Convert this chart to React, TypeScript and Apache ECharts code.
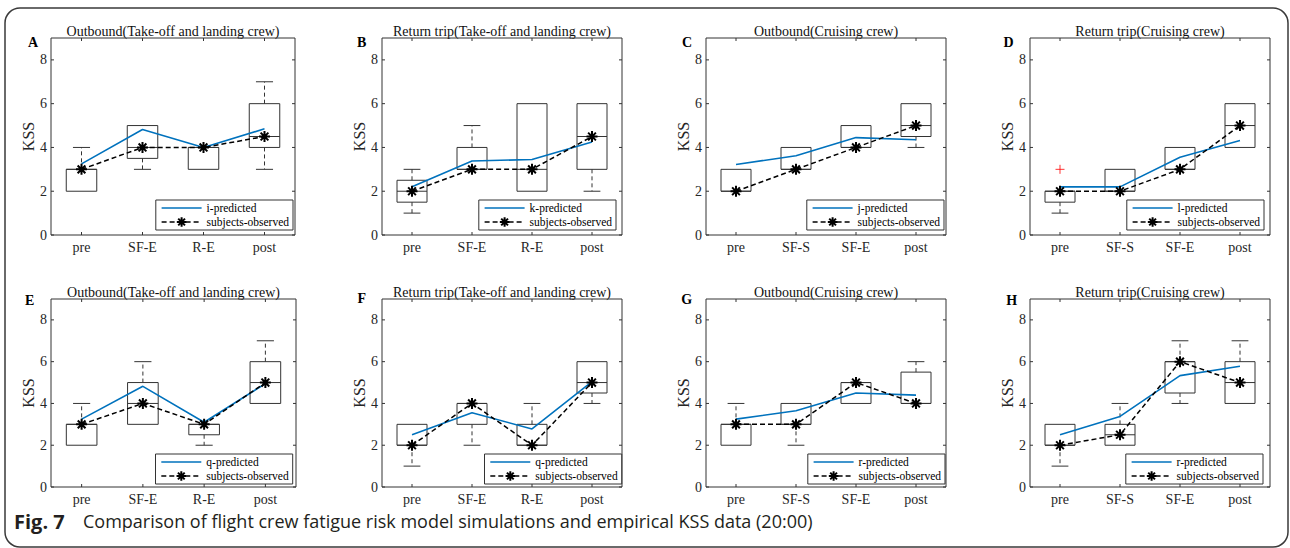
import React, { useEffect, useRef } from "react";
import * as echarts from "echarts";

// ---------- data ----------
const panelLetters = ["A", "B", "C", "D", "E", "F", "G", "H"];
const panelTitles = [
  "Outbound(Take-off and landing crew)",
  "Return trip(Take-off and landing crew)",
  "Outbound(Cruising crew)",
  "Return trip(Cruising crew)",
  "Outbound(Take-off and landing crew)",
  "Return trip(Take-off and landing crew)",
  "Outbound(Cruising crew)",
  "Return trip(Cruising crew)",
];
const catsTL = ["pre", "SF-E", "R-E", "post"];
const catsCr = ["pre", "SF-S", "SF-E", "post"];
const panelCats = [catsTL, catsTL, catsCr, catsCr, catsTL, catsTL, catsCr, catsCr];
const predictedNames = [
  "i-predicted", "k-predicted", "j-predicted", "l-predicted",
  "q-predicted", "q-predicted", "r-predicted", "r-predicted",
];
const observedName = "subjects-observed";
const yTicks = [0, 2, 4, 6, 8];

// predicted (model) values
const predA = [3.25, 4.82, 4.0, 4.85];
const predB = [2.2, 3.38, 3.45, 4.25];
const predC = [3.22, 3.62, 4.45, 4.35];
const predD = [2.2, 2.2, 3.55, 4.32];
const predE = [3.25, 4.82, 3.1, 4.95];
const predF = [2.5, 3.55, 2.78, 5.05];
const predG = [3.25, 3.65, 4.5, 4.4];
const predH = [2.5, 3.38, 5.33, 5.78];

// observed (median of subjects)
const obsA = [3, 4, 4, 4.5];
const obsB = [2, 3, 3, 4.5];
const obsC = [2, 3, 4, 5];
const obsD = [2, 2, 3, 5];
const obsE = [3, 4, 3, 5];
const obsF = [2, 4, 2, 5];
const obsG = [3, 3, 5, 4];
const obsH = [2, 2.5, 6, 5];

// box stats: [min, q1, median, q3, max]
const boxA = [[2, 2, 3, 3, 4], [3, 3.5, 4, 5, 5], [3, 3, 4, 4, 4], [3, 4, 4.5, 6, 7]];
const boxB = [[1, 1.5, 2, 2.5, 3], [3, 3, 3, 4, 5], [2, 2, 3, 6, 6], [2, 3, 4.5, 6, 6]];
const boxC = [[2, 2, 2, 3, 3], [3, 3, 3, 4, 4], [4, 4, 4, 5, 5], [4, 4.5, 5, 6, 6]];
const boxD = [[1, 1.5, 2, 2, 2], [2, 2, 2, 3, 3], [3, 3, 3, 4, 4], [4, 4, 5, 6, 6]];
const boxE = [[2, 2, 3, 3, 4], [3, 3, 4, 5, 6], [2, 2.5, 3, 3, 3], [4, 4, 5, 6, 7]];
const boxF = [[1, 2, 2, 3, 3], [2, 3, 4, 4, 4], [2, 2, 2, 3, 4], [4, 4.5, 5, 6, 6]];
const boxG = [[2, 2, 3, 3, 4], [2, 3, 3, 4, 4], [4, 4, 5, 5, 5], [4, 4, 4, 5.5, 6]];
const boxH = [[1, 2, 2, 3, 3], [2, 2, 2.5, 3, 4], [4, 4.5, 6, 6, 7], [4, 4, 5, 6, 7]];

// outliers: [category index, value]
const outA: number[][] = [];
const outB: number[][] = [];
const outC: number[][] = [];
const outD = [[0, 3]];
const outE: number[][] = [];
const outF: number[][] = [];
const outG: number[][] = [];
const outH: number[][] = [];

const predAll = [predA, predB, predC, predD, predE, predF, predG, predH];
const obsAll = [obsA, obsB, obsC, obsD, obsE, obsF, obsG, obsH];
const boxAll = [boxA, boxB, boxC, boxD, boxE, boxF, boxG, boxH];
const outAll = [outA, outB, outC, outD, outE, outF, outG, outH];

// ---------- layout ----------
const grids = [
  { left: 51, top: 38, width: 244, height: 197 },
  { left: 382, top: 38, width: 240, height: 197 },
  { left: 706, top: 38, width: 240, height: 197 },
  { left: 1030, top: 38, width: 240, height: 197 },
  { left: 51, top: 299, width: 245, height: 188 },
  { left: 382, top: 299, width: 240, height: 188 },
  { left: 706, top: 299, width: 240, height: 188 },
  { left: 1030, top: 299, width: 240, height: 188 },
];
const legendRight = [293, 616, 944, 1264, 292.7, 621.7, 945, 1263];
const legendTop = [200, 200, 200, 200, 454, 454, 454, 454];
const letterPos = [
  [33, 42], [361.7, 42], [687, 42], [1008.5, 42],
  [29.7, 300], [361.7, 298], [686.7, 299], [1011.7, 300.7],
];

const W = 1290;
const H = 548;
const SERIF = "'Liberation Serif', 'Times New Roman', serif";
const SANS = "'Open Sans', 'Noto Sans', sans-serif";
const frameColor = "#333333";
const textColor = "#262626";
const boxColor = "#333333";
const blue = "#0072BD";
const asterisk = "path://M0,-10L0,10M-10,0L10,0M-7.07,-7.07L7.07,7.07M-7.07,7.07L7.07,-7.07";
const plus = "path://M-10,0L10,0M0,-10L0,10";

function buildOption() {
  const xAxis: any[] = [];
  const yAxis: any[] = [];
  const series: any[] = [];
  const legend: any[] = [];
  const graphic: any[] = [];

  grids.forEach((g, i) => {
    const cats = panelCats[i];
    const catPos = cats.map((_, k) => k + 1);
    xAxis.push({
      type: "value", gridIndex: i, min: 0.5, max: 4.5, position: "bottom",
      axisLine: { show: false },
      axisTick: { show: false },
      axisLabel: {
        customValues: catPos,
        formatter: (v: number) => cats[Math.round(v) - 1] ?? "",
        fontFamily: SERIF, fontSize: 14, color: textColor, margin: 5,
      },
      splitLine: { show: false },
    });
    yAxis.push({
      type: "value", gridIndex: i, min: 0, max: 9, position: "left",
      name: "KSS", nameLocation: "middle", nameGap: 13, nameRotate: 90,
      nameTextStyle: { fontFamily: SERIF, fontSize: 16, color: textColor },
      axisLine: { show: false },
      axisTick: { show: false },
      axisLabel: { customValues: yTicks, fontFamily: SERIF, fontSize: 14, color: textColor, margin: 4 },
      splitLine: { show: false },
    });

    const xi = i;
    const yi = i;

    series.push({
      type: "custom",
      xAxisIndex: xi, yAxisIndex: yi,
      silent: true,
      z: 1,
      encode: { x: 0, y: [1, 2, 3, 4, 5] },
      data: boxAll[i].map((b, k) => [k + 1, ...b]),
      renderItem: (params: any, api: any) => {
        const x = api.value(0);
        const mn = api.value(1), q1 = api.value(2), md = api.value(3), q3 = api.value(4), mx = api.value(5);
        const half = 0.25, cap = 0.14;
        const tl = api.coord([x - half, q3]);
        const br = api.coord([x + half, q1]);
        const children: any[] = [];
        const ls = { stroke: boxColor, lineWidth: 1, fill: "none" };
        if (params.dataIndex === 0) {
          // axes box with inward ticks on all four sides
          const b0 = api.coord([0.5, 9]);
          const b1 = api.coord([4.5, 0]);
          const x0 = b0[0], y0 = b0[1], x1 = b1[0], y1 = b1[1];
          const st = { stroke: frameColor, lineWidth: 1, fill: "none" };
          const tk = 3;
          children.push({ type: "line", shape: { x1: x0, y1: y0, x2: x1, y2: y0 }, style: st });
          children.push({ type: "line", shape: { x1: x0, y1: y1, x2: x1, y2: y1 }, style: st });
          children.push({ type: "line", shape: { x1: x0, y1: y0, x2: x0, y2: y1 }, style: st });
          children.push({ type: "line", shape: { x1: x1, y1: y0, x2: x1, y2: y1 }, style: st });
          catPos.forEach((c) => {
            const px = api.coord([c, 0])[0];
            children.push({ type: "line", shape: { x1: px, y1: y1, x2: px, y2: y1 - tk }, style: st });
            children.push({ type: "line", shape: { x1: px, y1: y0, x2: px, y2: y0 + tk }, style: st });
          });
          yTicks.forEach((t) => {
            const py = api.coord([1, t])[1];
            children.push({ type: "line", shape: { x1: x0, y1: py, x2: x0 + tk, y2: py }, style: st });
            children.push({ type: "line", shape: { x1: x1, y1: py, x2: x1 - tk, y2: py }, style: st });
          });
        }
        if (mx > q3) {
          const a = api.coord([x, q3]), b = api.coord([x, mx]);
          children.push({ type: "line", shape: { x1: a[0], y1: a[1], x2: b[0], y2: b[1] }, style: { ...ls, lineDash: [4, 3] } });
          const c1 = api.coord([x - cap, mx]), c2 = api.coord([x + cap, mx]);
          children.push({ type: "line", shape: { x1: c1[0], y1: c1[1], x2: c2[0], y2: c2[1] }, style: ls });
        }
        if (mn < q1) {
          const a = api.coord([x, q1]), b = api.coord([x, mn]);
          children.push({ type: "line", shape: { x1: a[0], y1: a[1], x2: b[0], y2: b[1] }, style: { ...ls, lineDash: [4, 3] } });
          const c1 = api.coord([x - cap, mn]), c2 = api.coord([x + cap, mn]);
          children.push({ type: "line", shape: { x1: c1[0], y1: c1[1], x2: c2[0], y2: c2[1] }, style: ls });
        }
        children.push({
          type: "rect",
          shape: { x: tl[0], y: tl[1], width: br[0] - tl[0], height: br[1] - tl[1] },
          style: ls,
        });
        const m1 = api.coord([x - half, md]), m2 = api.coord([x + half, md]);
        children.push({ type: "line", shape: { x1: m1[0], y1: m1[1], x2: m2[0], y2: m2[1] }, style: ls });
        return { type: "group", children };
      },
    });

    series.push({
      type: "line",
      name: predictedNames[i],
      xAxisIndex: xi, yAxisIndex: yi,
      z: 3,
      symbol: "none",
      lineStyle: { color: blue, width: 1.6 },
      itemStyle: { color: blue },
      data: predAll[i].map((v, k) => [k + 1, v]),
    });

    series.push({
      type: "line",
      name: observedName,
      xAxisIndex: xi, yAxisIndex: yi,
      z: 4,
      symbol: asterisk,
      symbolSize: 11,
      lineStyle: { color: "#000", width: 1.5, type: [5, 3] },
      itemStyle: { color: "#000", borderColor: "#000", borderWidth: 2 },
      data: obsAll[i].map((v, k) => [k + 1, v]),
    });

    if (outAll[i].length) {
      series.push({
        type: "scatter",
        xAxisIndex: xi, yAxisIndex: yi,
        z: 4,
        symbol: plus,
        symbolSize: 9,
        itemStyle: { color: "#ff0000", borderColor: "#ff0000", borderWidth: 1 },
        data: outAll[i].map((o) => [o[0] + 1, o[1]]),
      });
    }

    legend.push({
      orient: "vertical",
      right: W - legendRight[i],
      top: legendTop[i],
      padding: [2, 4, 2, 5],
      itemGap: 2,
      itemWidth: 40,
      itemHeight: 12,
      backgroundColor: "#ffffff",
      borderColor: "#333333",
      borderWidth: 1,
      borderRadius: 0,
      selectedMode: false,
      z: 10,
      textStyle: { fontFamily: SERIF, fontSize: 11.5, color: "#000" },
      lineStyle: { width: "inherit" },
      data: [
        { name: predictedNames[i], itemStyle: { opacity: 0 } },
        { name: observedName },
      ],
    });

    graphic.push({
      type: "text",
      x: g.left + g.width / 2,
      y: g.top - 6.5,
      style: {
        text: panelTitles[i],
        fontFamily: SERIF, fontSize: 14, fill: "#111",
        align: "center", verticalAlign: "middle",
        textAlign: "center", textVerticalAlign: "middle",
      },
    });
    graphic.push({
      type: "text",
      x: letterPos[i][0],
      y: letterPos[i][1],
      style: {
        text: panelLetters[i],
        fontFamily: SERIF, fontSize: 14, fontWeight: "bold", fill: "#000",
        align: "center", verticalAlign: "middle",
        textAlign: "center", textVerticalAlign: "middle",
      },
    });
  });

  graphic.push({
    type: "rect",
    shape: { x: 5, y: 8, width: 1283, height: 539, r: 15 },
    style: { fill: "none", stroke: "#3a3a3a", lineWidth: 1.5 },
    silent: true,
  });
  graphic.push({
    type: "text",
    x: 14,
    y: 521,
    style: {
      text: "Fig. 7",
      fontFamily: SANS, fontSize: 20, fontWeight: "bold", fill: "#231f20",
      align: "left", verticalAlign: "middle", textAlign: "left", textVerticalAlign: "middle",
    },
  });
  graphic.push({
    type: "text",
    x: 83,
    y: 521,
    style: {
      text: "Comparison of flight crew fatigue risk model simulations and empirical KSS data (20:00)",
      fontFamily: SANS, fontSize: 18, fill: "#231f20",
      align: "left", verticalAlign: "middle", textAlign: "left", textVerticalAlign: "middle",
    },
  });

  return {
    animation: false,
    grid: grids.map((g) => ({ ...g, containLabel: false, show: false })),
    xAxis,
    yAxis,
    legend,
    series,
    graphic,
  };
}

export default function App() {
  const ref = useRef<HTMLDivElement>(null);
  useEffect(() => {
    document.body.style.margin = "0";
    document.body.style.overflow = "hidden";
    document.body.style.background = "#ffffff";
    if (!ref.current) return;
    const chart = echarts.init(ref.current, undefined, { renderer: "svg", width: W, height: H });
    chart.setOption(buildOption() as any);
    return () => chart.dispose();
  }, []);
  return <div ref={ref} style={{ width: W, height: H, position: "absolute", left: 0, top: 0 }} />;
}
